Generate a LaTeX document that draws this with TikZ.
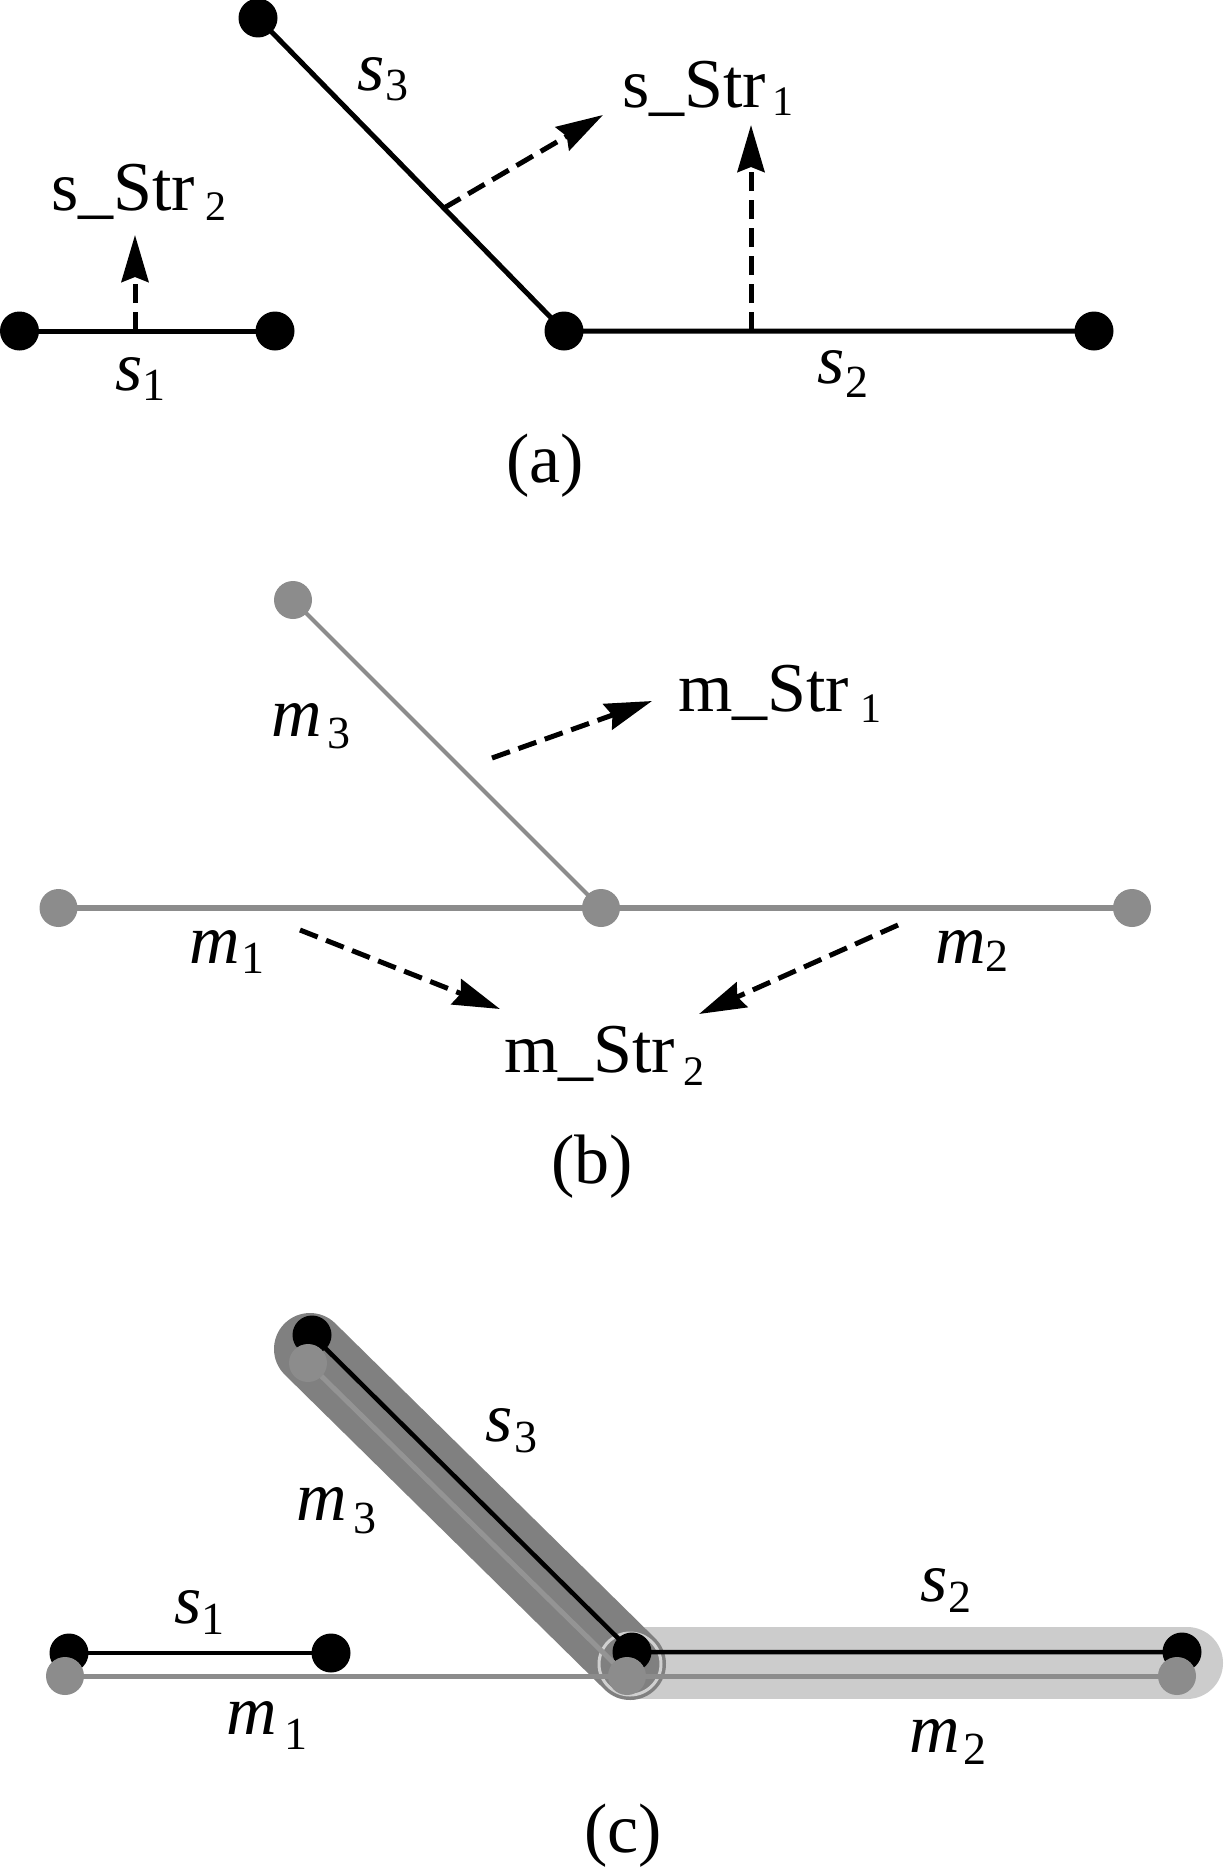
\documentclass[tikz,border=0pt]{standalone}
\usepackage{fontspec}
\setmainfont{Liberation Serif}
\usetikzlibrary{arrows.meta}
\definecolor{mgray}{RGB}{140,140,140}
\definecolor{tubedark}{RGB}{128,128,128}
\definecolor{tubelight}{RGB}{204,204,204}
\definecolor{ringgray}{RGB}{208,208,208}
\newcommand{\lbl}[4]{\textit{#1}\kern#3pt\raisebox{-#4pt}{\fontsize{46}{46}\selectfont #2}}
\newcommand{\strl}[4]{#1\kern#3pt\raisebox{-#4pt}{\fontsize{42}{42}\selectfont #2}}
\begin{document}
\begin{tikzpicture}[x=1pt,y=-1pt,
  txt/.style={inner sep=0pt,outer sep=0pt,font=\fontsize{70}{70}\selectfont,anchor=base west},
  captxt/.style={inner sep=0pt,outer sep=0pt,font=\fontsize{70}{70}\selectfont,anchor=base},
  bdot/.style={circle,fill=black,minimum size=39pt,inner sep=0pt,outer sep=0pt},
  gdot/.style={circle,fill=mgray,minimum size=38pt,inner sep=0pt,outer sep=0pt},
  sline/.style={line width=5pt,black},
  mline/.style={line width=6pt,mgray},
  mdiag/.style={line width=4pt,mgray},
  darrow/.style={line width=5pt,dash pattern=on 19pt off 9pt,-{Stealth[length=47pt,width=27pt,inset=5pt]}},
  tube/.style={line width=72pt,line cap=round}
]
\useasboundingbox[fill=white] (0,0) rectangle (1224,1868);

% ---------------- panel (a) ----------------
\coordinate (A1) at (19.5,331);
\coordinate (A2) at (275,331);
\coordinate (A3) at (258,18);
\coordinate (A4) at (564,331);
\coordinate (A5) at (1094,331);
\draw[sline] (A1) -- (A2);
\draw[sline] (A3) -- (A4) -- (A5);
\node[bdot] (a1) at (A1) {};
\node[bdot] (a2) at (A2) {};
\node[bdot] (a3) at (A3) {};
\node[bdot] (a4) at (A4) {};
\node[bdot] (a5) at (A5) {};

\coordinate (P1) at (135,331);
\coordinate (Q1) at (135,235);
\coordinate (P2) at (444,208);
\coordinate (Q2) at (603,115);
\coordinate (P3) at (751,331);
\coordinate (Q3) at (751,125);
\draw[darrow] (P1) -- (Q1);
\draw[darrow] (P2) -- (Q2);
\draw[darrow] (P3) -- (Q3);

\node[txt] (sstr2) at (51,210) {\strl{s\_Str}{2}{11}{10}};
\node[txt] (sstr1) at (622,107) {\strl{s\_Str}{1}{7}{8}};
\node[txt] (ls1a) at (115,390) {\lbl{s}{1}{0}{10}};
\node[txt] (ls2a) at (817,383) {\lbl{s}{2}{1}{14}};
\node[txt] (ls3a) at (357,90) {\lbl{s}{3}{1}{10}};
\node[captxt] (capa) at (545,482) {(a)};

% ---------------- panel (b) ----------------
\coordinate (B1) at (58.5,908);
\coordinate (B2) at (601,908);
\coordinate (B3) at (293,600);
\coordinate (B4) at (1132,908);
\draw[mline] (B1) -- (B2) -- (B4);
\draw[mdiag] (B3) -- (B2);
\node[gdot] (b1) at (B1) {};
\node[gdot] (b2) at (B2) {};
\node[gdot] (b3) at (B3) {};
\node[gdot] (b4) at (B4) {};

\coordinate (R1) at (492,758);
\coordinate (S1) at (652,701);
\coordinate (R2) at (300,930);
\coordinate (S2) at (500,1009);
\coordinate (R3) at (898,925);
\coordinate (S3) at (699,1014);
\draw[darrow] (R1) -- (S1);
\draw[darrow] (R2) -- (S2);
\draw[darrow] (R3) -- (S3);

\node[txt] (mstr1) at (678,711) {\strl{m\_Str}{1}{11}{11}};
\node[txt] (mstr2) at (504,1072) {\strl{m\_Str}{2}{8}{13}};
\node[txt] (lm3b) at (271,736) {\lbl{m}{3}{6}{12}};
\node[txt] (lm1b) at (189,963) {\lbl{m}{1}{2}{10}};
\node[txt] (lm2b) at (935,963) {\lbl{m}{2}{0}{8}};
\node[captxt] (capb) at (592,1183) {(b)};

% ---------------- panel (c) ----------------
\coordinate (T3) at (310,1349);
\coordinate (T4) at (630,1664);
\coordinate (T4b) at (632,1663);
\coordinate (T5) at (1187,1663);
\draw[tube,tubelight] (T4b) -- (T5);
\draw[tube,tubedark] (T3) -- (T4);
\node[circle,draw=ringgray,line width=3pt,minimum size=62pt,inner sep=0pt] (ring) at (T4) {};

\coordinate (C1) at (69,1653);
\coordinate (C2) at (331,1653);
\coordinate (C3) at (312,1335);
\coordinate (C4) at (632,1652);
\coordinate (C5) at (1182,1652);
\coordinate (G1) at (65,1676);
\coordinate (G3) at (308,1363);
\coordinate (G4) at (627,1676);
\coordinate (G5) at (1177,1676);

\draw[line width=4.5pt,black] (C1) -- (C2);
\draw[line width=4.5pt,black] (C3) -- (C4) -- (C5);
\node[bdot] (c1) at (C1) {};
\node[bdot] (c2) at (C2) {};
\node[bdot] (c3) at (C3) {};
\node[bdot] (c4) at (C4) {};
\node[bdot] (c5) at (C5) {};
\draw[mline,line width=5pt] (G1) -- (G4) -- (G5);
\draw[line width=5pt,color={rgb,255:red,148;green,148;blue,148}] (G3) -- (G4);
\node[gdot] (g1) at (G1) {};
\node[gdot] (g3) at (G3) {};
\node[gdot] (g4) at (G4) {};
\node[gdot] (g5) at (G5) {};

\node[txt] (ls3c) at (485,1441) {\lbl{s}{3}{2}{11}};
\node[txt] (lm3c) at (296,1520) {\lbl{m}{3}{7}{13}};
\node[txt] (ls1c) at (174,1623) {\lbl{s}{1}{0}{11}};
\node[txt] (lm1c) at (226,1734) {\lbl{m}{1}{8}{15}};
\node[txt] (ls2c) at (920,1601) {\lbl{s}{2}{1}{11}};
\node[txt] (lm2c) at (909,1752) {\lbl{m}{2}{4}{12}};
\node[captxt] (capc) at (623,1852) {(c)};
\end{tikzpicture}
\end{document}
